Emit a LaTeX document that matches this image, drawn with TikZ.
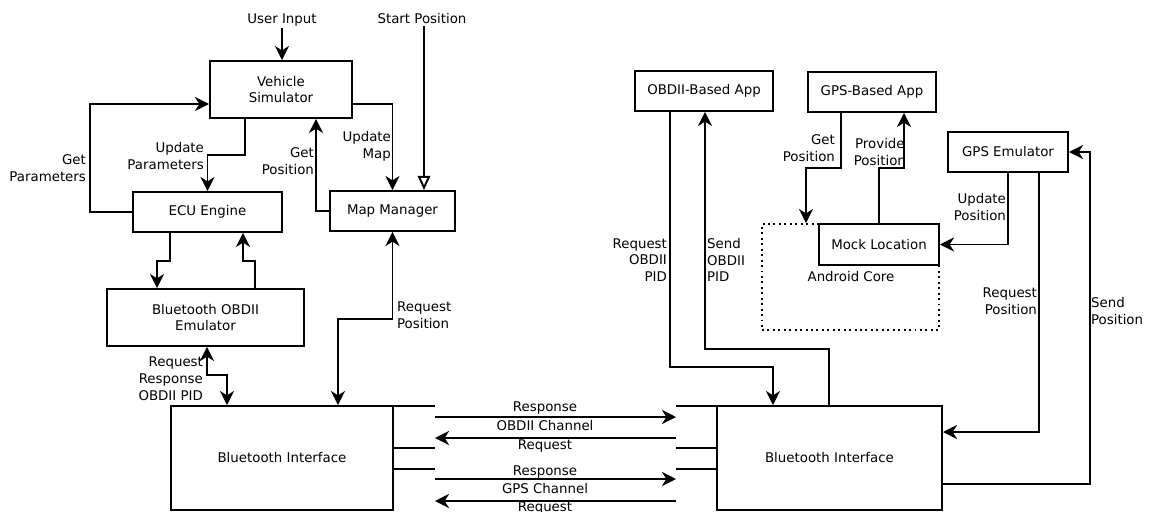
\documentclass[tikz,border=0pt]{standalone}
\usepackage{fontspec}
\setmainfont{DejaVu Sans}
\usetikzlibrary{arrows.meta}

\tikzset{
	box/.style 2 args={draw, line width=1.1pt, minimum width=#1*0.02cm, minimum height=#2*0.02cm, inner sep=0pt, align=center},
	lbl/.style={inner sep=1pt},
	conn/.style={line width=1.1pt, -{Stealth[length=8pt, width=8pt, inset=2.5pt]}},
	both/.style={line width=1.1pt, {Stealth[length=8pt, width=8pt, inset=2.5pt]}-{Stealth[length=8pt, width=8pt, inset=2.5pt]}},
	plain/.style={line width=1.1pt}
}

\begin{document}
\begin{tikzpicture}[x=0.02cm, y=-0.02cm]
		\useasboundingbox (0, 0) rectangle (1149, 511);
		\begin{scope}[every node/.append style={font=\fontsize{7.6}{9.6}\selectfont}]
			\node[box={142}{57}] (vehsim) at (281, 89.5) {Vehicle\\Simulator};
			\node[box={149}{40}] (ecu) at (207.5, 212) {ECU Engine};
			\node[box={125}{40}] (mapmgr) at (392.5, 211) {Map Manager};
			\node[box={197}{57}] (btemu) at (205.5, 317.5) {Bluetooth OBDII\\Emulator};
			\node[box={222}{104}] (btleft) at (282, 458) {Bluetooth Interface};
			\node[box={225}{104}] (btright) at (829.5, 458) {Bluetooth Interface};
			\node[box={138}{40}] (obdapp) at (704, 91) {OBDII-Based App};
			\node[box={128}{40}] (gpsapp) at (872, 92) {GPS-Based App};
			\node[box={120}{40}] (gpsemu) at (1008, 152) {GPS Emulator};
			\node[draw, dotted, line width=1.1pt, minimum width=177*0.02cm, minimum height=106*0.02cm] (core) at (850.5, 277) {};
			\node[box={120}{41}, fill=white] (mockloc) at (879, 244.5) {Mock Location};
			\node[lbl] (corelbl) at (851, 277) {Android Core};

			\node[lbl] (userin) at (282, 20) {User Input};
			\node[lbl] (startpos) at (422, 19) {Start Position};
		\end{scope}

		\begin{scope}[every node/.append style={font=\fontsize{7.6}{9.6}\selectfont, lbl}]
			\draw[conn] (userin.south) -- (vehsim.north -| userin.south);
			\draw[plain, -{Triangle[open, length=8pt, width=7pt]}] (startpos.south -| 424,0) -- (mapmgr.north -| 424,0);

			\draw[conn] (ecu.west) -| (90, 104) -- (vehsim.west |- 0,104);
			\node[anchor=east, align=right] at (88, 168) {Get\\Parameters};
			\draw[conn] (vehsim.south -| 245,0) -- (245, 155) -| (ecu.north);
			\node[anchor=east, align=right] at (206, 156) {Update\\Parameters};
			\draw[conn] (mapmgr.west) -| (vehsim.south -| 316,0);
			\node[anchor=east, align=right] at (316, 161) {Get\\Position};
			\draw[conn] (vehsim.east |- 0,104) -| (mapmgr.north);
			\node[anchor=east, align=right] at (393, 146) {Update\\Map};

			\draw[conn] (ecu.south -| 170,0) -- (170, 261) -| (btemu.north -| 157,0);
			\draw[conn] (btemu.north -| 255,0) -- (255, 261) -| (ecu.south -| 243,0);
			\draw[both] (btemu.south -| 207,0) -- (207, 375) -| (btleft.north -| 227,0);
			\node[anchor=east, align=right] at (205, 379) {Request\\Response\\OBDII PID};
			\draw[both] (mapmgr.south) -- (392.5, 319) -| (btleft.north -| 338,0);
			\node[anchor=west, align=left] at (395, 315) {Request\\Position};

			\coordinate (lport) at (435, 406);
			\coordinate (rport) at (676, 406);
			\draw[plain] (btleft.east |- 0,406) -- (lport);
			\draw[plain] (btleft.east |- 0,448) -- (lport |- 0,448);
			\draw[plain] (btleft.east |- 0,469) -- (lport |- 0,469);
			\draw[plain] (btright.west |- 0,406) -- (rport);
			\draw[plain] (btright.west |- 0,448) -- (rport |- 0,448);
			\draw[plain] (btright.west |- 0,469) -- (rport |- 0,469);
			\draw[conn] ([yshift=-11*0.02cm]lport) -- ([yshift=-11*0.02cm]rport);
			\draw[conn] ([yshift=-32*0.02cm]rport) -- ([yshift=-32*0.02cm]lport);
			\draw[conn] ([yshift=-73*0.02cm]lport) -- ([yshift=-73*0.02cm]rport);
			\draw[conn] ([yshift=-95*0.02cm]rport) -- ([yshift=-95*0.02cm]lport);
			\node at (545, 408) {Response};
			\node at (545, 426) {OBDII Channel};
			\node at (545, 446) {Request};
			\node at (545, 472) {Response};
			\node at (545, 489) {GPS Channel};
			\node at (545, 508) {Request};

			\draw[conn] (obdapp.south -| 670,0) -- (670, 367) -| (btright.north -| 773,0);
			\node[anchor=east, align=right] at (669, 260) {Request\\OBDII\\PID};
			\draw[conn] (btright.north -| 829,0) -- (829, 349) -| (obdapp.south -| 705,0);
			\node[anchor=west, align=left] at (705, 260) {Send\\OBDII\\PID};

			\draw[conn] (gpsapp.south -| 841,0) -- (841, 168) -| (core.north -| 806,0);
			\node[anchor=east, align=right] at (837, 148) {Get\\Position};
			\draw[conn] (mockloc.north -| 879,0) -- (879, 168) -| (gpsapp.south -| 904,0);
			\node[anchor=east, align=center] at (908, 152) {Provide\\Position};

			\draw[conn] (gpsemu.south -| 1008,0) |- (mockloc.east);
			\node[anchor=east, align=right] at (1008, 207) {Update\\Position};
			\draw[conn] (gpsemu.south -| 1039,0) |- (btright.east |- 0,432);
			\node[anchor=east, align=right] at (1039, 301) {Request\\Position};
			\draw[conn] (btright.east |- 0,484) -| (1090, 152) -- (gpsemu.east);
			\node[anchor=west, align=left] at (1089, 311) {Send\\Position};
		\end{scope}
	\end{tikzpicture}
\end{document}
